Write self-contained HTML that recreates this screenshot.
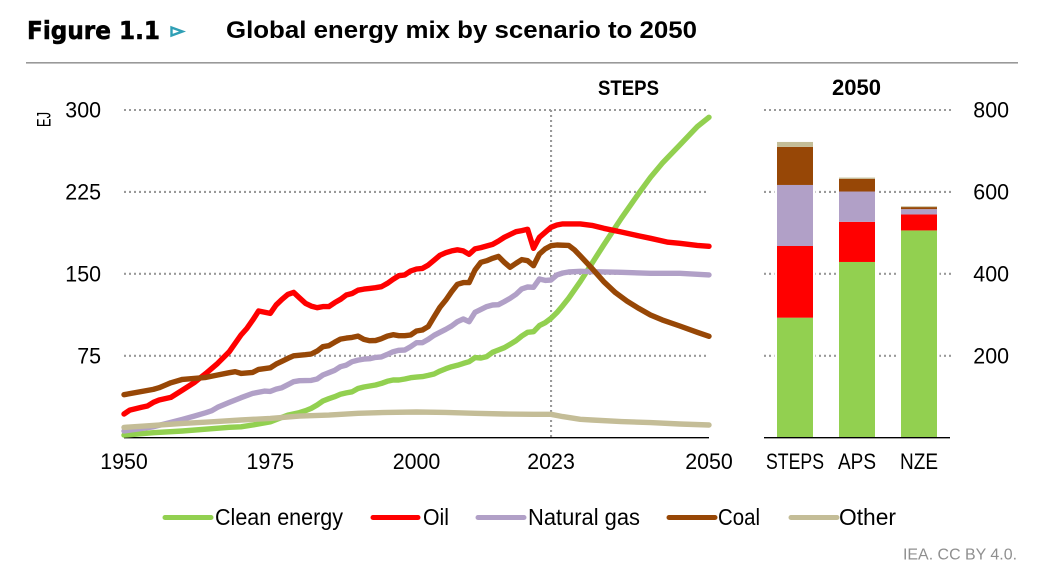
<!DOCTYPE html>
<html lang="en">
<head>
<meta charset="utf-8">
<title>Global energy mix by scenario to 2050</title>
<style>
html,body{margin:0;padding:0;background:#fff;width:1054px;height:574px;overflow:hidden}
svg{display:block}
text{font-family:"Liberation Sans",sans-serif;fill:#000}
.tick{font-size:22.5px}
.leg{font-size:23px}
</style>
</head>
<body>
<svg id="chart" width="1054" height="574" viewBox="0 0 1054 574" xmlns="http://www.w3.org/2000/svg">
  <text x="27" y="39" font-size="25" font-weight="700" style="font-family:'DejaVu Sans',sans-serif;stroke:#000;stroke-width:0.6" textLength="133" lengthAdjust="spacingAndGlyphs">Figure 1.1</text>
  <polygon points="171.5,27.5 182.5,31.5 171.5,35.5" fill="none" stroke="#2f9fb5" stroke-width="2.4"/>
  <text x="226" y="38" font-size="24.5" font-weight="700" textLength="471" lengthAdjust="spacingAndGlyphs">Global energy mix by scenario to 2050</text>
  <rect x="26" y="62" width="992" height="1.6" fill="#999"/>
  <text transform="translate(50.5,127) rotate(-90)" font-size="19" textLength="15" lengthAdjust="spacingAndGlyphs">EJ</text>
  <text x="628.5" y="95" font-size="21.5" font-weight="700" text-anchor="middle" textLength="61" lengthAdjust="spacingAndGlyphs">STEPS</text>
  <text x="856.5" y="95" font-size="22.5" font-weight="700" text-anchor="middle" textLength="49" lengthAdjust="spacingAndGlyphs">2050</text>
  <g id="grid"></g>
  <g id="ticks"></g>
  <g id="bars"></g>
  <g id="lines"></g>
  <g stroke-linecap="round">
    <g>
      <line x1="165" y1="517.5" x2="211" y2="517.5" stroke="#92d050" stroke-width="5"/>
      <text class="leg" x="215" y="525" textLength="128" lengthAdjust="spacingAndGlyphs">Clean energy</text>
    </g>
    <g>
      <line x1="373" y1="517.5" x2="418" y2="517.5" stroke="#ff0000" stroke-width="5"/>
      <text class="leg" x="423" y="525" textLength="26" lengthAdjust="spacingAndGlyphs">Oil</text>
    </g>
    <g>
      <line x1="478" y1="517.5" x2="524" y2="517.5" stroke="#b1a0c7" stroke-width="5"/>
      <text class="leg" x="528" y="525" textLength="112" lengthAdjust="spacingAndGlyphs">Natural gas</text>
    </g>
    <g>
      <line x1="669" y1="517.5" x2="715" y2="517.5" stroke="#974706" stroke-width="5"/>
      <text class="leg" x="718" y="525" textLength="42" lengthAdjust="spacingAndGlyphs">Coal</text>
    </g>
    <g>
      <line x1="791" y1="517.5" x2="837" y2="517.5" stroke="#c4bd97" stroke-width="5"/>
      <text class="leg" x="839" y="525" textLength="57" lengthAdjust="spacingAndGlyphs">Other</text>
    </g>
  </g>
  <text x="903" y="559.5" font-size="16" style="fill:#8f8f8f" textLength="114" lengthAdjust="spacingAndGlyphs">IEA. CC BY 4.0.</text>
</svg>
<script>
// ---- Line chart data (EJ, left axis) ----
const leftTicks = [75, 150, 225, 300];
const xTickYears = [1950, 1975, 2000, 2023, 2050];
const dividerYear = 2023;

const cleanYears = [1950,1955,1960,1965,1968,1970,1972,1975,1978,1980,1981,1982,1983,1984,1985,1986,1987,1988,1989,1990,1991,1992,1993,1994,1995,1996,1997,1998,1999,2000,2001,2002,2003,2004,2005,2006,2007,2008,2009,2010,2011,2012,2013,2014,2015,2016,2017,2018,2019,2020,2021,2022,2023,2024,2025,2026,2028,2030,2032,2035,2038,2040,2042,2045,2048,2050];
const cleanValues = [2.4,4.6,6.1,8.2,9.5,10,11.6,14.6,20.7,23,24.7,26.8,29.9,33.6,35.7,37.5,39.7,41,42,45,46.4,47.3,48.2,49.7,51.6,52.8,52.8,53.7,54.9,55.5,55.9,57,58.3,61,63.2,65,66.3,68,69.6,73.3,73,74.2,78.2,80.3,82.4,85.5,88.8,93.1,96.5,97,102.6,105.3,109.3,114.5,120.9,127.6,142.9,159.7,176.4,200.9,223.7,238.4,251.2,268,284.8,293.3];

const oilYears = [1950,1951,1953,1954,1955,1956,1958,1960,1962,1964,1966,1968,1970,1971,1972,1973,1975,1976,1977,1978,1979,1980,1981,1982,1983,1984,1985,1986,1987,1988,1989,1990,1991,1992,1993,1994,1995,1996,1997,1998,1999,2000,2001,2002,2003,2004,2005,2006,2007,2008,2009,2010,2011,2012,2013,2014,2015,2016,2017,2018,2019,2020,2021,2022,2023,2024,2025,2026,2028,2030,2032,2035,2038,2040,2043,2045,2048,2050];
const oilValues = [21.7,25.3,27.8,29,32.3,34.5,36.9,43.6,50.4,58.9,68,78.7,94,100,107.7,116,113.8,121.5,126.6,131.2,133,128,123,120.5,119,120,120,123.6,126.6,130.6,132,135,136,136.7,137.3,138.2,141.3,145,148.3,149,152.6,154.4,155,158,162.5,167,169.4,171,172,171,167.9,172.8,174,175.5,177,180,183.5,186,188.6,189.6,190.8,173.4,183.5,188,192.6,194.7,195.7,195.7,195.7,194.4,191.7,188.3,184.7,182.5,179,178,176,175.2];

const gasYears = [1950,1955,1958,1960,1962,1964,1965,1966,1968,1970,1972,1974,1975,1976,1977,1978,1979,1980,1982,1983,1984,1985,1986,1987,1988,1989,1990,1991,1992,1993,1994,1995,1996,1997,1998,1999,2000,2001,2002,2003,2004,2005,2006,2007,2008,2009,2010,2011,2012,2013,2014,2015,2016,2017,2018,2019,2020,2021,2022,2023,2024,2025,2026,2028,2030,2035,2040,2045,2050];
const gasValues = [6.1,10,14,16.8,19.8,22.9,24.7,27.8,32.3,36.6,40.6,42.7,42.4,44.5,45.8,48.5,51.3,52.2,52.5,53.7,57.4,59.5,61.6,65,66.5,69.6,71,72,72.3,73.5,74,76.3,78.7,80,80.3,83.3,87,87,90,93.7,96.5,99.2,102.3,106.2,108.7,106.2,114.8,117.5,120,121.5,121.8,124.6,127.6,131.3,136.2,138,137.7,145.3,144,144.4,149,150.8,151.7,152.3,152,151.4,150.5,150.5,149];

const coalYears = [1950,1955,1956,1958,1960,1962,1964,1966,1968,1969,1970,1972,1973,1975,1976,1977,1978,1979,1981,1982,1983,1984,1985,1986,1987,1988,1989,1990,1991,1992,1993,1994,1995,1996,1997,1998,1999,2000,2001,2002,2003,2004,2005,2006,2007,2008,2009,2010,2011,2012,2013,2014,2015,2016,2017,2018,2019,2020,2021,2022,2023,2024,2026,2027,2028,2030,2032,2034,2036,2038,2040,2042,2045,2048,2050];
const coalValues = [39.4,44.2,45.8,50.3,53.4,54.3,55.2,57.4,59.5,60.4,58.9,59.8,62.5,64,67.4,69.9,72.6,75,76,76.6,79.3,83.3,84.2,87.3,90.3,91.2,91.8,93,90,88.8,89,90.6,93,94.3,93.4,93.4,94,97.7,98.6,101.7,110.8,119.4,126,133.7,140.4,142,142,153.5,160.6,162,164.2,166,160.6,156,159.7,163,162,157.5,168.2,172.8,175.8,176.4,176,171.9,166.4,155,142.9,132.8,125,118.4,112.3,107.8,102.3,96.5,92.8];

const otherYears = [1950,1955,1960,1965,1970,1975,1980,1985,1990,1995,2000,2005,2010,2015,2020,2023,2025,2028,2030,2035,2040,2045,2050];
const otherValues = [9.4,11.3,13.1,14.6,16.2,17.7,19.8,20.7,22.3,23.2,23.5,23.2,22.3,21.7,21.4,21.4,19.3,16.8,16.2,14.7,13.8,12.5,11.6];

// ---- Bar chart data (EJ, right axis) ----
const rightTicks = [200, 400, 600, 800];
const scenarios = ["STEPS", "APS", "NZE"];
const barClean = [293, 429, 506];
const barOil = [175, 98, 39];
const barGas = [149, 74, 13];
const barCoal = [93, 31, 5];
const barOther = [12, 3, 2];

// ---- Axis functions ----
const NS = "http://www.w3.org/2000/svg";
const x0 = 124, x1 = 709, yBase = 437.7, yTop = 110;
const xScale = yr => x0 + (yr - 1950) * (x1 - x0) / 100;
const yLeft = v => yBase - v * (yBase - yTop) / 300;
const yRight = v => yBase - v * (yBase - yTop) / 800;
const barAxisStart = 764, barAxisEnd = 950, barWidth = 36;
const bandWidth = (barAxisEnd - barAxisStart) / scenarios.length;
const barCenter = i => barAxisStart + bandWidth * (i + 0.5);
const digitWidth = 11.9;

function mk(tag, attrs, parent, txt) {
  const el = document.createElementNS(NS, tag);
  for (const k in attrs) el.setAttribute(k, attrs[k]);
  if (txt !== undefined) el.textContent = txt;
  parent.appendChild(el);
  return el;
}
const dotted = {stroke: "#999999", "stroke-width": 2.1, "stroke-dasharray": "2 3", fill: "none"};

// Gridlines
const gridG = document.getElementById("grid");
leftTicks.forEach(t => {
  const l = mk("line", Object.assign({x1: x0, x2: x1, y1: yLeft(t), y2: yLeft(t)}, dotted), gridG);
  
  
});
rightTicks.forEach(t => {
  const l = mk("line", Object.assign({x1: barAxisStart, x2: 952, y1: yRight(t), y2: yRight(t)}, dotted), gridG);
  
  
});
const divider = mk("line", Object.assign({x1: xScale(dividerYear), x2: xScale(dividerYear), y1: yTop, y2: yBase}, dotted), gridG);



// Tick labels and axes
const tickG = document.getElementById("ticks");
leftTicks.forEach(t => {
  const w = String(t).length * digitWidth;
  const el = mk("text", {class: "tick", x: 101 - w, y: yLeft(t) + 7.5, textLength: w, lengthAdjust: "spacingAndGlyphs"}, tickG, t);
  
  
});
rightTicks.forEach(t => {
  const w = String(t).length * digitWidth;
  const el = mk("text", {class: "tick", x: 1009 - w, y: yRight(t) + 7.5, textLength: w, lengthAdjust: "spacingAndGlyphs"}, tickG, t);
  
  
});
xTickYears.forEach(yr => {
  const w = String(yr).length * digitWidth;
  const el = mk("text", {class: "tick", x: xScale(yr) - w / 2, y: 469, textLength: w, lengthAdjust: "spacingAndGlyphs"}, tickG, yr);
  
  
});
scenarios.forEach((s, i) => {
  const w = 8 + s.length * 10;
  const el = mk("text", {class: "tick", x: barCenter(i) - w / 2, y: 469, textLength: w, lengthAdjust: "spacingAndGlyphs"}, tickG, s);
  
  
});

// Stacked bars
const barG = document.getElementById("bars");
const stackParts = [
  ["clean", barClean, "#92d050"],
  ["oil", barOil, "#ff0000"],
  ["gas", barGas, "#b1a0c7"],
  ["coal", barCoal, "#974706"],
  ["other", barOther, "#c4bd97"]
];
scenarios.forEach((s, i) => {
  const cx = barCenter(i);
  // clear a small halo behind each bar so the dotted grid stops short of it
  const top = stackParts.reduce((acc, p) => acc + p[1][i], 0);
  const halo = mk("rect", {x: cx - barWidth / 2 - 2.5, y: yRight(top), width: barWidth + 5, height: yBase - yRight(top), fill: "#fff"}, barG);
  
  
  let cum = 0;
  stackParts.forEach(p => {
    const v = p[1][i];
    const r = mk("rect", {x: cx - barWidth / 2, y: yRight(cum + v), width: barWidth, height: yRight(cum) - yRight(cum + v), fill: p[2]}, barG);
    
    
    cum += v;
  });
});
const barAxis = mk("line", {x1: barAxisStart, x2: barAxisEnd, y1: yBase, y2: yBase, stroke: "#000", "stroke-width": 1.4}, barG);



// Line series
const lineG = document.getElementById("lines");
const lineAxis = mk("line", {x1: x0, x2: x1, y1: yBase, y2: yBase, stroke: "#000", "stroke-width": 1.4}, lineG);


const seriesList = [
  ["clean-energy", cleanYears, cleanValues, "#92d050"],
  ["oil", oilYears, oilValues, "#ff0000"],
  ["natural-gas", gasYears, gasValues, "#b1a0c7"],
  ["coal", coalYears, coalValues, "#974706"],
  ["other", otherYears, otherValues, "#c4bd97"]
];
seriesList.forEach(s => {
  const pts = s[1].map((yr, i) => xScale(yr).toFixed(1) + "," + yLeft(s[2][i]).toFixed(1)).join(" ");
  const pl = mk("polyline", {points: pts, fill: "none", stroke: s[3], "stroke-width": 5.4, "stroke-linejoin": "round", "stroke-linecap": "round"}, lineG);
  
  
});
</script>
</body>
</html>
